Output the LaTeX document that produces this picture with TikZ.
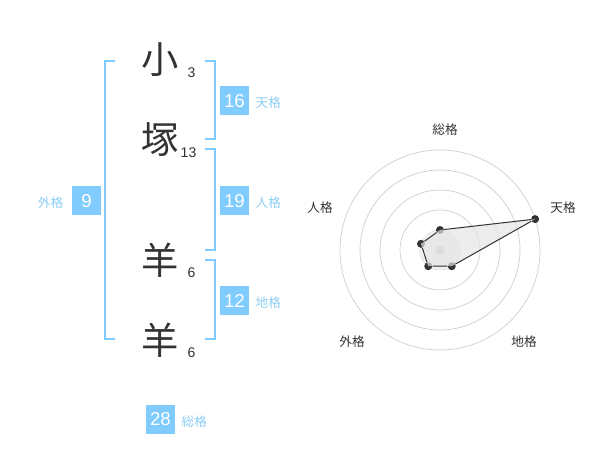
\documentclass[tikz,border=0pt]{standalone}
\usepackage{fontspec}
\usetikzlibrary{calc}
\setmainfont{Liberation Sans}
\newfontfamily\jpfont{Noto Sans CJK JP}
\definecolor{kakublue}{HTML}{80CCFF}
\definecolor{kakulabel}{HTML}{8CCFF5}
\definecolor{inkgray}{HTML}{333333}
\definecolor{ringgray}{HTML}{CCCCCC}
\tikzset{
  kanji/.style={text=inkgray,font=\jpfont\fontsize{28}{28}\selectfont},
  strokes/.style={text=inkgray,font=\fontsize{10.5}{10.5}\selectfont},
  kakubox/.style={fill=kakublue,text=white,minimum width=21.75pt,minimum height=21.75pt,inner sep=0pt,font=\fontsize{14}{14}\selectfont},
  kakuname/.style={text=kakulabel,font=\jpfont\fontsize{9.5}{9.5}\selectfont},
  bracket/.style={kakublue,line width=1.5pt},
  axisname/.style={text=inkgray,font=\jpfont\fontsize{9.5}{9.5}\selectfont},
  ring/.style={ringgray,line width=0.5pt},
  dot/.style={circle,fill=inkgray,inner sep=0pt,minimum size=6pt}
}
\begin{document}
\begin{tikzpicture}[x=0.75pt,y=-0.75pt]
                \useasboundingbox (0,0) rectangle (600,470);
                \draw [bracket] (115,61) -- (105,61) -- (105,339) -- (115,339);
                \draw [bracket] (205,61) -- (215,61) -- (215,139) -- (205,139);
                \draw [bracket] (205,149) -- (215,149) -- (215,250) -- (205,250);
                \draw [bracket] (205,260) -- (215,260) -- (215,339) -- (205,339);
                \node [kanji] (k1) at (160,60) {小};
                \node [kanji] (k2) at (160,140) {塚};
                \node [kanji] (k3) at (160,260) {羊};
                \node [kanji] (k4) at (160,340) {羊};
                \node [strokes,anchor=east] (s1) at (200,73) {3};
                \node [strokes,anchor=east] (s2) at (201,153) {13};
                \node [strokes,anchor=east] (s3) at (200,273) {6};
                \node [strokes,anchor=east] (s4) at (200,353) {6};
                \node [kakubox] (ten) at (234.5,101) {16};
                \node [kakuname,anchor=west] (tenname) at (251,103) {天格};
                \node [kakubox] (jin) at (234.5,201) {19};
                \node [kakuname,anchor=west] (jinname) at (251,203) {人格};
                \node [kakubox] (chi) at (234.5,301) {12};
                \node [kakuname,anchor=west] (chiname) at (251,303) {地格};
                \node [kakubox] (gai) at (86.5,201) {9};
                \node [kakuname,anchor=east] (gainame) at (68,203) {外格};
                \node [kakubox] (sou) at (160.5,419) {28};
                \node [kakuname,anchor=west] (souname) at (177,422) {総格};
                \foreach \r in {20,40,...,100}
                  \draw [ring] (440,250) circle [radius=\r];
                \fill [ringgray!30] (440,250) circle [radius=20];
                \node [circle,fill=ringgray,inner sep=0pt,minimum size=6.5pt] (mid) at (440,250) {};
                \node [dot] (psou) at (440,230) {};
                \node [dot] (pten) at ($(440,250)+(18:100 and -100)$) {};
                \node [dot] (pchi) at ($(440,250)+(-54:20 and -20)$) {};
                \node [dot] (pgai) at ($(440,250)+(-126:20 and -20)$) {};
                \node [dot] (pjin) at ($(440,250)+(162:20 and -20)$) {};
                \fill [black!10,opacity=0.7] (psou.center) -- (pten.center) -- (pchi.center) -- (pgai.center) -- (pjin.center) -- cycle;
                \draw [inkgray,line width=0.75pt] (psou) -- (pten) -- (pchi) -- (pgai) -- (pjin) -- (psou);
                \node [axisname] (asou) at (445,130) {総格};
                \node [axisname] (aten) at (563,208) {天格};
                \node [axisname] (ajin) at (320,208) {人格};
                \node [axisname] (agai) at (352,342) {外格};
                \node [axisname] (achi) at (524,342) {地格};
\end{tikzpicture}
\end{document}
